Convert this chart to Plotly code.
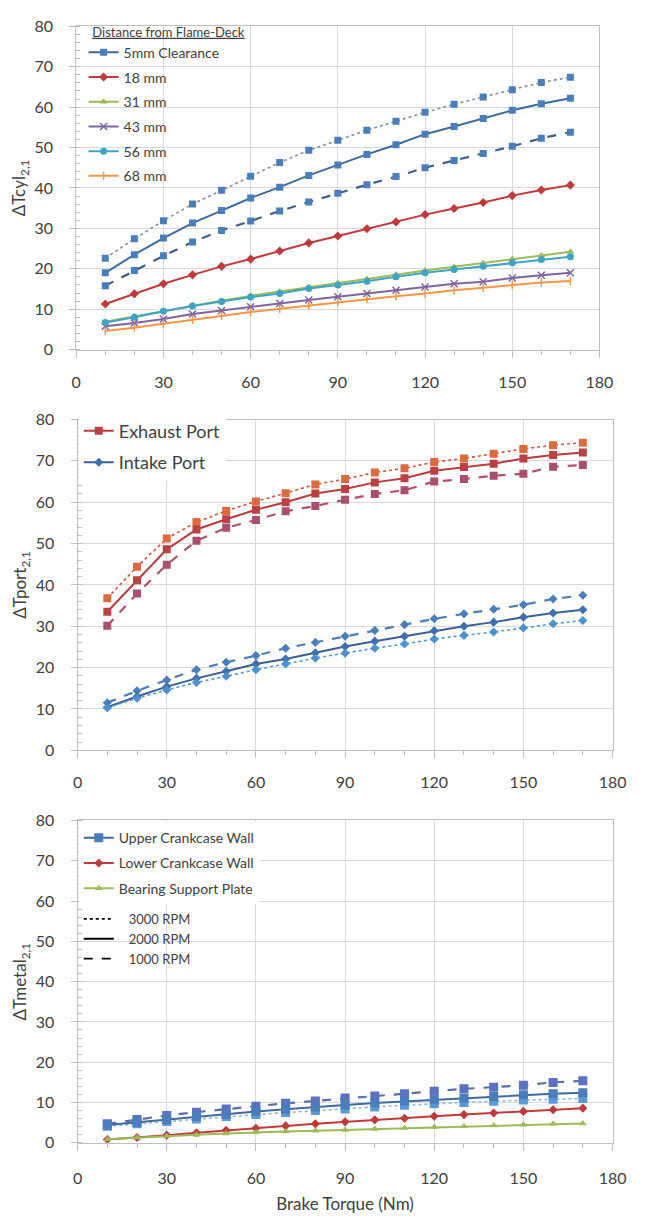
import plotly.graph_objects as go

# ---------------- data ----------------
torque = [10, 20, 30, 40, 50, 60, 70, 80, 90, 100, 110, 120, 130, 140, 150, 160, 170]

# Panel 1: cylinder wall (distance from flame deck)
cyl_5mm_3000 = [22.6, 27.4, 31.9, 36.0, 39.4, 42.9, 46.3, 49.3, 51.8, 54.3, 56.5, 58.7, 60.7, 62.5, 64.3, 66.1, 67.4]
cyl_5mm_2000 = [19.0, 23.5, 27.6, 31.3, 34.4, 37.5, 40.2, 43.1, 45.7, 48.3, 50.7, 53.3, 55.2, 57.2, 59.2, 60.8, 62.2]
cyl_5mm_1000 = [15.8, 19.6, 23.2, 26.6, 29.5, 31.8, 34.3, 36.5, 38.7, 40.8, 42.8, 45.0, 46.8, 48.5, 50.3, 52.3, 53.8]
cyl_18mm = [11.3, 13.8, 16.3, 18.5, 20.6, 22.4, 24.4, 26.4, 28.1, 29.9, 31.6, 33.4, 34.9, 36.4, 38.1, 39.5, 40.7]
cyl_31mm = [6.9, 8.2, 9.6, 10.9, 12.1, 13.3, 14.4, 15.5, 16.5, 17.5, 18.6, 19.6, 20.5, 21.4, 22.4, 23.3, 24.2]
cyl_43mm = [5.8, 6.6, 7.6, 8.8, 9.7, 10.6, 11.4, 12.3, 13.1, 13.9, 14.7, 15.5, 16.3, 16.8, 17.7, 18.4, 19.0]
cyl_56mm = [6.7, 8.0, 9.5, 10.8, 11.9, 13.0, 13.9, 15.1, 16.0, 16.9, 18.0, 19.0, 19.8, 20.6, 21.5, 22.3, 23.0]
cyl_68mm = [4.6, 5.4, 6.4, 7.4, 8.4, 9.3, 10.1, 10.9, 11.7, 12.5, 13.2, 13.9, 14.7, 15.3, 16.0, 16.6, 17.0]

# Panel 2: ports
exh_3000 = [36.8, 44.4, 51.2, 55.2, 57.9, 60.2, 62.2, 64.3, 65.6, 67.2, 68.2, 69.7, 70.6, 71.7, 72.9, 73.8, 74.4]
exh_2000 = [33.5, 41.1, 48.6, 53.4, 55.9, 58.2, 60.0, 62.1, 63.2, 64.8, 65.8, 67.6, 68.5, 69.3, 70.6, 71.4, 72.0]
exh_1000 = [30.1, 37.9, 44.9, 50.7, 53.8, 55.7, 57.8, 59.1, 60.6, 62.0, 62.9, 65.0, 65.6, 66.4, 66.9, 68.6, 69.0]
int_1000 = [11.5, 14.4, 17.0, 19.5, 21.3, 22.9, 24.7, 26.1, 27.6, 29.0, 30.4, 31.8, 33.0, 34.1, 35.2, 36.6, 37.5]
int_2000 = [10.4, 13.0, 15.4, 17.4, 19.1, 20.9, 22.1, 23.6, 25.1, 26.4, 27.6, 28.9, 30.0, 31.0, 32.2, 33.2, 34.0]
int_3000 = [10.3, 12.6, 14.6, 16.4, 17.9, 19.5, 20.9, 22.3, 23.5, 24.7, 25.7, 26.9, 27.8, 28.6, 29.6, 30.6, 31.4]

# Panel 3: metal
upper_1000 = [4.7, 5.8, 6.8, 7.6, 8.4, 9.1, 9.8, 10.4, 11.1, 11.6, 12.2, 12.8, 13.4, 13.8, 14.3, 15.0, 15.4]
upper_2000 = [4.4, 5.1, 5.8, 6.5, 7.1, 7.8, 8.3, 8.9, 9.4, 9.9, 10.3, 10.7, 11.1, 11.5, 11.9, 12.2, 12.4]
upper_3000 = [4.1, 4.7, 5.3, 5.9, 6.5, 7.0, 7.5, 8.0, 8.4, 8.9, 9.3, 9.7, 10.0, 10.3, 10.6, 10.8, 11.0]
lower_2000 = [0.8, 1.3, 1.9, 2.5, 3.1, 3.6, 4.2, 4.7, 5.2, 5.7, 6.1, 6.6, 7.0, 7.4, 7.8, 8.2, 8.6]
plate_2000 = [0.9, 1.3, 1.7, 2.0, 2.3, 2.6, 2.8, 3.0, 3.2, 3.4, 3.7, 3.9, 4.1, 4.3, 4.5, 4.7, 4.8]

x_ticks = [0, 30, 60, 90, 120, 150, 180]
y_ticks = [0, 10, 20, 30, 40, 50, 60, 70, 80]

# ---------------- styling ----------------
FONT = "Lato"
TXT = "#404040"
GRID = "#d9d9d9"
AXL = "#bfbfbf"
NB = "\u00a0"

fig = go.Figure()


def add(x, y, name, xa, ya, color, lcolor, dash, symbol, size, width, legend, show, group):
    fig.add_trace(go.Scatter(
        x=x, y=y, name=name, mode="lines+markers",
        xaxis=xa, yaxis=ya,
        line=dict(color=lcolor, width=width, dash=dash),
        marker=dict(color=color, symbol=symbol, size=size,
                    line=dict(color=color, width=1.5 if ("line" in symbol or "x" in symbol) else 0)),
        legend=legend, showlegend=show, legendgroup=group,
    ))


# Panel 1
add(torque, cyl_5mm_3000, "5mm 3000", "x", "y", "#4a7ebb", "#7f8fa8", "dot", "square", 7, 1.6, "legend", False, "g5")
add(torque, cyl_5mm_2000, "5mm Clearance", "x", "y", "#4a7ebb", "#3e6a9e", "solid", "square", 7, 2, "legend", True, "g5")
add(torque, cyl_5mm_1000, "5mm 1000", "x", "y", "#4a7ebb", "#3e5f8c", "dash", "square", 7, 2.2, "legend", False, "g5")
add(torque, cyl_18mm, "18 mm", "x", "y", "#c0393b", "#c0393b", "solid", "diamond", 7, 2, "legend", True, "g18")
add(torque, cyl_31mm, "31 mm", "x", "y", "#9bbb59", "#9bbb59", "solid", "triangle-up", 7, 2, "legend", True, "g31")
add(torque, cyl_43mm, "43 mm", "x", "y", "#8064a2", "#8064a2", "solid", "x-thin", 7, 2, "legend", True, "g43")
add(torque, cyl_56mm, "56 mm", "x", "y", "#3fa3c3", "#3fa3c3", "solid", "circle", 7, 2, "legend", True, "g56")
add(torque, cyl_68mm, "68 mm", "x", "y", "#f79646", "#f79646", "solid", "line-ns", 6, 2, "legend", True, "g68")

# Panel 2
add(torque, exh_3000, "Exhaust 3000", "x2", "y2", "#dd6a3c", "#d9503a", "dot", "square", 8, 1.6, "legend2", False, "ge")
add(torque, exh_2000, "Exhaust Port", "x2", "y2", "#b94043", "#b83c3f", "solid", "square", 8, 2, "legend2", True, "ge")
add(torque, exh_1000, "Exhaust 1000", "x2", "y2", "#a9506e", "#b0506a", "dash", "square", 8, 2.2, "legend2", False, "ge")
add(torque, int_1000, "Intake 1000", "x2", "y2", "#4a7ebb", "#4a7ebb", "dash", "diamond", 7, 2.2, "legend2", False, "gi")
add(torque, int_2000, "Intake Port", "x2", "y2", "#3f6fae", "#3d5f94", "solid", "diamond", 7, 2, "legend2", True, "gi")
add(torque, int_3000, "Intake 3000", "x2", "y2", "#4b92cf", "#4b9ad6", "dot", "diamond", 7, 1.6, "legend2", False, "gi")

# Panel 3
add(torque, upper_1000, "Upper 1000", "x3", "y3", "#5a72c0", "#5a6ea8", "dash", "square", 9, 2.2, "legend3", False, "gu")
add(torque, upper_3000, "Upper 3000", "x3", "y3", "#5b9bd5", "#8fb4dc", "dot", "square", 9, 1.6, "legend3", False, "gu")
add(torque, upper_2000, "Upper Crankcase Wall", "x3", "y3", "#4a7ebb", "#3e6a9e", "solid", "square", 9, 2, "legend3", True, "gu")
add(torque, lower_2000, "Lower Crankcase Wall", "x3", "y3", "#c0393b", "#c0393b", "solid", "diamond", 7, 2, "legend3", True, "gl")
add(torque, plate_2000, "Bearing Support Plate", "x3", "y3", "#9bbb59", "#9bbb59", "solid", "triangle-up", 7, 2, "legend3", True, "gb")

# RPM key (line-style legend only)
for nm, ds in [("3000 RPM", "dot"), ("2000 RPM", "solid"), ("1000 RPM", "dash")]:
    fig.add_trace(go.Scatter(x=[None], y=[None], name=NB * 3 + nm, mode="lines", xaxis="x3", yaxis="y3",
                             line=dict(color="#000000", width=1.8, dash=ds),
                             legend="legend4", showlegend=True))


def xax(domain, anchor, standoff, title=None):
    d = dict(domain=domain, anchor=anchor, range=[0, 180], tickmode="array", tickvals=x_ticks,
             showgrid=True, gridcolor=GRID, gridwidth=1, zeroline=False,
             showline=True, linecolor=AXL, linewidth=1, mirror=True,
             ticks="outside", ticklen=7, tickcolor=AXL,
             minor=dict(dtick=10, tick0=0, ticks="outside", ticklen=4, tickcolor=AXL, showgrid=False),
             tickfont=dict(family=FONT, size=16, color=TXT), ticklabelstandoff=standoff)
    if title:
        d["title"] = dict(text=title, font=dict(family=FONT, size=17, color=TXT), standoff=12)
    return d


def yax(domain, anchor, title):
    return dict(domain=domain, anchor=anchor, range=[0, 80], tickmode="array", tickvals=y_ticks,
                showgrid=True, gridcolor=GRID, gridwidth=1, zeroline=False,
                showline=True, linecolor=AXL, linewidth=1, mirror=True,
                ticks="outside", ticklen=6, tickcolor=AXL,
                minor=dict(dtick=2, tick0=0, ticks="inside", ticklen=4, tickcolor=AXL, showgrid=False),
                tickfont=dict(family=FONT, size=16, color=TXT), ticklabelstandoff=13,
                title=dict(text=title, font=dict(family=FONT, size=17, color=TXT), standoff=4))


W, H = 645, 1222
top_x = [73.4 / W, 612.5 / W]
low_x = [74.8 / W, 626.0 / W]

fig.update_layout(
    width=W, height=H, margin=dict(l=0, r=0, t=0, b=0),
    paper_bgcolor="white", plot_bgcolor="white",
    font=dict(family=FONT, color=TXT),
    xaxis=xax(top_x, "y", 11),
    yaxis=yax([1 - 345 / H, 1 - 16.5 / H], "x", "ΔTcyl<sub>2,1</sub>"),
    xaxis2=xax(low_x, "y2", 10),
    yaxis2=yax([1 - 752 / H, 1 - 416 / H], "x2", "ΔTport<sub>2,1</sub>"),
    xaxis3=xax(low_x, "y3", 14, "Brake Torque (Nm)"),
    yaxis3=yax([1 - 1150.7 / H, 1 - 823.3 / H], "x3", "ΔTmetal<sub>2,1</sub>"),
    # white panel behind the first legend: hides gridlines, keeps data visible
    shapes=[dict(type="rect", xref="paper", yref="paper", layer="between",
                 x0=74 / W, x1=213 / W, y0=1 - 188 / H, y1=1 - 17.5 / H,
                 fillcolor="white", line=dict(width=0))],
    legend=dict(x=81 / W, y=1 - 10 / H, xanchor="left", yanchor="top",
                bgcolor="rgba(255,255,255,0)", borderwidth=0, tracegroupgap=3.5,
                title=dict(text=NB * 2 + "<u>Distance from Flame-Deck</u>",
                           font=dict(family=FONT, size=13, color=TXT)),
                font=dict(family=FONT, size=14, color=TXT)),
    legend2=dict(x=76 / W, y=1 - 409 / H, xanchor="left", yanchor="top",
                 bgcolor="white", borderwidth=0, tracegroupgap=5,
                 font=dict(family=FONT, size=18, color=TXT)),
    legend3=dict(x=76 / W, y=1 - 825 / H, xanchor="left", yanchor="top",
                 bgcolor="white", borderwidth=0, tracegroupgap=4,
                 font=dict(family=FONT, size=14, color=TXT)),
    legend4=dict(x=76 / W, y=1 - 908 / H, xanchor="left", yanchor="top",
                 bgcolor="rgba(255,255,255,0)", borderwidth=0, tracegroupgap=0,
                 font=dict(family=FONT, size=13, color=TXT)),
)

fig.write_html("out.html")
